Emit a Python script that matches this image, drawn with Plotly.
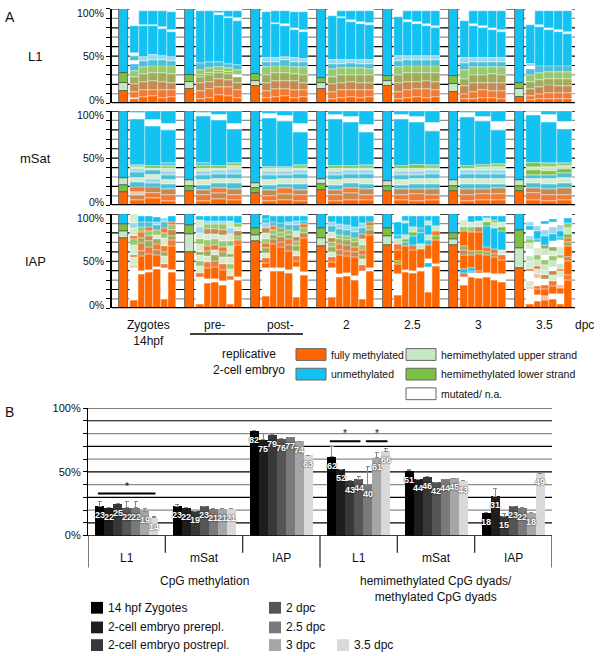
import plotly.graph_objects as go

# ======================= DATA =======================
# ---- Panel A ----
A_ROWS = ["L1", "mSat", "IAP"]
A_GROUP_LABELS = ["Zygotes<br>14hpf", "pre-", "post-", "2", "2.5", "3", "3.5"]
A_TICK_LABELS = {0: "0%", 50: "50%", 100: "100%"}
# stacking order of the summary bar segments per row (rest on top = unmethylated)
A_SUMMARY_CODES = [["O", "L", "G", "B"], ["O", "G", "L", "B"], ["O", "L", "G", "B"]]
# summary bars per group: three lower segments (%), rest = unmethylated
A_SUMMARY_L1 = [[12.5, 8.5, 11], [15, 8, 7], [18.5, 5.5, 7.5], [15.5, 5.5, 5.5],
                [18.5, 5, 5.5], [11.5, 8.5, 9], [7, 8, 6]]
A_SUMMARY_MSAT = [[14.5, 7, 7.5], [15.5, 5, 6.5], [13, 5, 6], [16.5, 6, 5.5],
                  [15.5, 4.5, 6], [15.5, 5, 6.5], [15.5, 5, 6.5]]
A_SUMMARY_IAP = [[75, 7, 7], [60, 18.6, 9.4], [71.7, 6, 7], [66.5, 8.5, 10.5],
                 [67.2, 9.4, 9], [67.2, 6.2, 6], [42.4, 21.4, 19]]

# clone columns: segments bottom->top, code + percent
A_CLONES_L1 = [
    ["O4 p2 o6 a8 m8 g6 t8 W3 t5 W3 B29 W18", "O7 o7 a9 m8 g7 t7 c4 B33 W1 B15 W2",
     "O8 o6 a10 m8 g8 t6 c5 B31 W1 B15 W2", "O6 o8 a9 m9 g7 t7 c4 B29 W2 B17 W2",
     "O7 o7 a8 m9 g8 t6 c4 B27 W2 B19 W3"],
    ["O5 o8 a9 m6 G2 g5 t8 B55 W2", "O6 o9 a8 m7 G2 g5 t7 B54 W2",
     "O9 o8 a9 m6 G2 g4 t6 B50 W2 B2 W2", "O8 o9 a8 m6 G2 g4 t5 B48 W2 B6 W2",
     "O6 o8 a7 m7 W2 g5 t6 B46 W3 B8 W2"],
    ["O6 o7 a8 m9 g8 t6 c4 B49 W3", "O7 o8 a9 m8 g7 t5 c4 B36 W1 B13 W2",
     "O8 o7 a9 m8 g8 t6 c3 B33 W2 B14 W2", "O6 o8 a10 m7 g7 t6 c4 B30 W2 B17 W3",
     "O7 o7 a8 m8 g8 t6 c3 B29 W2 B19 W3"],
    ["O5 o7 a8 m8 g8 t6 c4 B47 W7", "O6 o8 a8 m8 g7 t5 c4 B44 W2 B6 W2",
     "O7 o7 a9 m7 g7 t6 c3 B40 W2 B10 W2", "O6 o8 a8 m8 g7 t5 c4 B38 W2 B12 W2",
     "O7 o7 a8 m8 g6 t6 c4 B37 W2 B13 W2"],
    ["O5 o7 a9 m9 g8 t7 c5 B41 W9", "O6 o8 a9 m9 g8 t6 c4 B36 W2 B10 W2",
     "O7 o8 a8 m9 g8 t6 c4 B34 W2 B12 W2", "O6 o9 a9 m8 g8 t6 c4 B32 W2 B14 W2",
     "O7 o7 a9 m9 g8 t6 c4 B30 W2 B16 W2"],
    ["O4 o6 a8 m8 g9 t8 c5 B39 W13", "O5 o7 a9 m9 g8 t6 c4 B34 W2 B14 W2",
     "O6 o8 a8 m8 g8 t6 c4 B32 W2 B16 W2", "O6 o7 a9 m9 g7 t6 c4 B30 W2 B18 W2",
     "O5 o8 a8 m9 g8 t6 c4 B28 W2 B20 W2"],
    ["O3 o5 a7 m8 g7 t6 W3 c3 B41 W17", "O4 o6 a7 m8 g7 t7 B42 W2 B15 W2",
     "O5 o6 a8 m7 g7 t6 B39 W2 B18 W2", "O4 o7 a7 m8 g7 t6 B37 W2 B20 W2",
     "O5 o6 a7 m8 g7 t6 B35 W2 B22 W2"],
]
A_CLONES_MSAT = [
    ["O6 a5 p3 o5 t6 l4 t6 c3 L3 g2 B48 W7 B2", "O8 o5 a6 t5 c4 l4 t5 L3 G2 B42 W6 B10",
     "O5 o6 a6 t6 l4 t5 c4 L3 g3 t3 B35 W6 B14"],
    ["O5 o6 a5 t6 l5 t5 c4 L4 G2 t3 B50 W3 B2", "O7 a6 o5 t6 l4 t5 c4 L3 G2 B48 W6 B4",
     "O6 o5 a6 t7 l4 t5 c5 L4 g3 B36 W5 B14"],
    ["O5 o5 a6 t6 l5 t5 c4 L3 G2 B52 W4 B3", "O6 a6 o6 t5 l5 t4 c4 L3 g2 B48 W6 B5",
     "O5 o6 a5 t7 l5 t5 c4 L3 g3 B35 W8 B14"],
    ["O5 o6 a5 t6 l5 t5 c4 L4 G2 B50 W4 B4", "O6 a7 o5 t6 l4 t5 c4 L3 G2 B46 W6 B6",
     "O6 o5 a6 t6 l5 t5 c4 L3 g3 B35 W7 B15"],
    ["O6 o5 a6 t5 l5 t5 c4 L4 G2 B50 W4 B4", "O5 o7 a5 t6 l5 t4 c4 L4 G3 B45 W6 B6",
     "O6 o5 a6 t6 l5 t5 c4 L3 g3 B36 W8 B13"],
    ["O5 o6 a6 t6 l5 t5 c4 L3 G2 B52 W4 B2", "O6 o6 a5 t6 l5 t5 c4 L4 G2 B46 W5 B6",
     "O6 o6 a6 t5 l5 t5 c4 L4 g3 B36 W8 B12"],
    ["O6 o7 a5 t6 l4 t4 G5 L4 G4 B51 W3 B1", "O5 o6 a6 t6 l5 t4 G4 L5 g4 B43 W8 B4",
     "O6 o5 a7 t6 l5 t5 G4 L4 g3 B36 W7 B12"],
]
A_CLONES_IAP = [
    ["O9 W34 y3 l8 o3 l10 g6 o4 l8 c5 l10", "O36 W3 O16 a6 o8 m6 o6 g5 t5 B7 W2",
     "O38 W3 O17 o7 m6 a6 g5 o4 t6 B6 W2", "O42 W2 O12 a6 o6 m5 l5 g5 t5 c3 B6 W3",
     "O10 W33 o4 l8 m5 o6 l9 g5 o5 t6 c5 W4", "O38 W3 O25 o6 m5 a6 g5 o4 B6 W2"],
    ["O5 W28 o4 l8 g5 l6 m4 l8 g5 l7 c6 l8 B4 W2", "O27 W4 O12 o6 l6 m6 o5 g6 l7 a5 g5 c4 B5 W2",
     "O28 W3 O13 o6 m6 l6 o5 g6 l6 a5 g5 c4 B5 W2", "O25 W4 O12 o6 l7 m6 o5 g6 l7 a5 g6 c4 B5 W2",
     "O4 W26 o4 l8 g5 l7 m4 l8 g5 l8 c6 l8 B5 W2", "O30 W3 O34 o5 g5 a5 l4 g4 B8 W2"],
    ["O13 W30 O5 o5 l6 m5 o5 g5 l6 a5 c5 t5 B4 W1", "O40 W3 O25 a5 m5 g5 o4 t5 B6 W2",
     "O40 W3 O22 o5 a6 g5 m4 t5 B8 W2", "O37 W4 O20 a6 o6 m5 g5 t5 c4 B6 W2",
     "O12 W32 O6 o5 l6 m5 g5 a5 l6 t6 c5 B5 W2", "O35 W3 O37 a5 g5 o4 t4 B5 W2"],
    ["O12 W31 O6 o5 l6 m5 g5 a5 l6 t6 c5 B6 W2", "O33 W3 O20 a6 o6 m5 g5 t6 c5 B9 W2",
     "O34 W3 O18 o6 a6 m5 g5 t6 c5 B10 W2", "O30 W4 O20 a6 o5 m5 g5 t6 c5 B12 W2",
     "O10 W30 o6 l6 m5 o5 g5 l6 a6 t6 c5 B8 W2", "O40 W3 O35 a5 g4 o4 B7 W2"],
    ["O14 W22 O11 G3 O12 o6 L5 t5 B14 W8", "O38 W3 O25 t4 G4 L4 B12 L3 B5 W2",
     "O37 W3 O22 o5 B10 G4 L5 B12 W2", "O40 W3 O20 L5 B12 t5 B13 W2",
     "O17 W27 B4 W4 O15 t5 L6 B10 L5 B5 W2", "O45 W2 O25 G5 o5 L5 B11 W2"],
    ["O25 W8 o4 B5 O15 a5 m4 O16 g4 l8 W6", "O33 W4 t3 B3 O14 m4 O20 g5 l6 B6 W2",
     "O32 W5 o3 O18 G3 O20 a5 l7 B5 W2", "O33 W4 O20 m3 o5 B22 G4 l5 B2 W2",
     "O30 W6 O18 a4 o5 B22 L5 g4 B4 W2", "O28 W8 O15 o5 l6 B20 G4 l6 B6 W2"],
    ["O5 W15 p3 l6 W10 o3 l8 L5 W8 l6 g4 c4 W6 B4 c5 W8",
     "O8 W6 O6 o4 W8 p4 l6 o3 L6 g5 l8 W6 t4 B8 c5 W13",
     "O9 p4 O7 o5 W6 a4 l6 L5 g5 W6 L6 m4 B10 c6 W6 B4 W7",
     "O10 W5 O9 o5 l6 a4 W5 L6 g5 l6 m4 W6 B8 c7 W6 B3 W5",
     "O5 W10 O6 p4 W8 l6 o3 L5 W6 g4 l8 W7 t4 B6 c6 W12",
     "O30 o5 O15 a4 O12 m4 o5 G4 L6 g5 B6 W4"],
]
A_LEGEND = [("fully methylated", "O"), ("unmethylated", "B"),
            ("hemimethylated upper strand", "L"), ("hemimethylated lower strand", "G"),
            ("mutated/ n.a.", "W")]

# ---- Panel B ----
B_CATEGORIES = ["L1", "mSat", "IAP", "L1", "mSat", "IAP"]
B_SECTIONS = ["CpG methylation", "hemimethylated CpG dyads/<br>methylated CpG dyads"]
B_SERIES = ["14 hpf Zygotes", "2-cell embryo prerepl.", "2-cell embryo postrepl.",
            "2 dpc", "2.5 dpc", "3 dpc", "3.5 dpc"]
B_VALUES = [
    [23, 23, 82, 62, 51, 18],
    [22, 22, 75, 52, 44, 31],
    [25, 19, 79, 43, 46, 15],
    [22, 23, 76, 44, 42, 23],
    [22, 21, 77, 40, 44, 22],
    [19, 21, 74, 61, 45, 18],
    [14, 21, 63, 66, 43, 49],
]
B_ERRORS = [
    [4, 1.5, 0, 8, 1, 0],
    [0, 0, 5, 0, 0, 6],
    [0, 0, 1, 0, 0, 2.5],
    [5, 0, 0, 2, 0, 0],
    [5, 0, 0, 14, 0, 0],
    [2, 0, 0, 4, 0, 0],
    [1, 0, 0, 2, 0, 0],
]
# significance brackets: (category index, first series, last series, level %)
B_SIGNIF = [(0, 0, 6, 33), (3, 0, 3, 74), (3, 4, 6, 74)]

# ======================= STYLE =======================
W, H = 600, 656
FONT = "Liberation Sans, Arial, sans-serif"
COLORS = {"O": "#ff6600", "B": "#14c2f2", "L": "#c7e8c4", "G": "#7cc143", "W": "#ffffff",
          "o": "#f07a36", "a": "#c48a52", "m": "#a0ab5c", "g": "#98c96c", "t": "#4cc0d6",
          "c": "#9ad8ee", "l": "#d6ecd0", "p": "#f8c09a", "y": "#e6d2a0"}
B_COLORS = ["#000000", "#1e1e1e", "#383838", "#555555", "#7a7a7a", "#a6a6a6", "#d9d9d9"]
TXT = dict(color="#111")


def px(x):
    return x / W


def py(y):
    return 1 - y / H


def note(text, x, y, xref="paper", yref="paper", xanchor="center", yanchor="middle", size=12, **kw):
    return dict(text=text, x=x, y=y, xref=xref, yref=yref, xanchor=xanchor, yanchor=yanchor,
                showarrow=False, font=dict(size=size, **TXT), **kw)


fig = go.Figure()

# ---------- Panel A geometry ----------
A_X0, A_X1, A_UNIT = 112, 575, 66.0
A_ROW_PX = [(3, 99), (107, 203), (212, 308)]
S_LEFT, S_W = 7 / A_UNIT, 9 / A_UNIT
C_L, C_R = 18 / A_UNIT, 64 / A_UNIT
TICK_SHIFT = {0: 3, 50: 0, 100: -4}

summaries = [A_SUMMARY_L1, A_SUMMARY_MSAT, A_SUMMARY_IAP]
clones = [A_CLONES_L1, A_CLONES_MSAT, A_CLONES_IAP]
shapes, annotations = [], []


def add(store, code, x, base, h, w):
    d = store.setdefault(code, {"x": [], "base": [], "y": [], "w": []})
    d["x"].append(x); d["base"].append(base); d["y"].append(h); d["w"].append(w)


for r in range(3):
    xa = "x" if r == 0 else f"x{r + 1}"
    ya = "y" if r == 0 else f"y{r + 1}"
    buckets, sbuckets = {}, {}
    for g in range(7):
        vals = list(summaries[r][g]) + [100 - sum(summaries[r][g])]
        base = 0
        for code, v in zip(A_SUMMARY_CODES[r], vals):
            add(sbuckets, code, g + S_LEFT + S_W / 2, base, v, S_W)
            base += v
        cols = clones[r][g]
        cw = (C_R - C_L) / len(cols)
        for j, s in enumerate(cols):
            xc = g + C_L + (j + 0.5) * cw
            base = 0
            for tok in s.split():
                v = float(tok[1:])
                add(buckets, tok[0], xc, base, v, cw)
                base += v
    for code, d in buckets.items():
        fig.add_trace(go.Bar(x=d["x"], y=d["y"], base=d["base"], width=d["w"],
                             marker=dict(color=COLORS[code], line=dict(color="white", width=0.4)),
                             xaxis=xa, yaxis=ya, showlegend=False, hoverinfo="skip"))
    for code, d in sbuckets.items():
        fig.add_trace(go.Bar(x=d["x"], y=d["y"], base=d["base"], width=d["w"],
                             marker=dict(color=COLORS[code], line=dict(color="#555555", width=0.8)),
                             xaxis=xa, yaxis=ya, showlegend=False, hoverinfo="skip"))
    for v in range(10, 101, 10):
        col = "#000000" if v in (50, 100) or v % 20 == 0 else "#8a8a8a"
        shapes.append(dict(type="line", xref=f"{xa} domain", yref=ya, x0=0, x1=1, y0=v, y1=v,
                           line=dict(color=col, width=1.2), layer="below"))
    shapes.append(dict(type="line", xref=f"{xa} domain", yref=ya, x0=0, x1=1, y0=0, y1=0,
                       line=dict(color="black", width=2.5), layer="above"))
    annotations.append(note(A_ROWS[r], px(35), py((A_ROW_PX[r][0] + A_ROW_PX[r][1]) / 2), size=13))
    for v, lab in A_TICK_LABELS.items():
        annotations.append(note(lab, px(A_X0 - 6), v, yref=ya, xanchor="right", size=10.5,
                                yshift=TICK_SHIFT[v]))

axis_common = dict(showgrid=False, zeroline=False)
for r in range(3):
    sfx = "" if r == 0 else str(r + 1)
    fig.update_layout(**{
        f"xaxis{sfx}": dict(domain=[px(A_X0), px(A_X1)], range=[0, (A_X1 - A_X0) / A_UNIT],
                            showticklabels=False, ticks="", showline=False, anchor=f"y{sfx}",
                            **axis_common),
        f"yaxis{sfx}": dict(domain=[py(A_ROW_PX[r][1]), py(A_ROW_PX[r][0])], range=[0, 100],
                            tickvals=list(range(0, 101, 10)), showticklabels=False,
                            ticks="outside", ticklen=4, tickcolor="black", showline=True,
                            linecolor="black", linewidth=1.5, anchor=f"x{sfx}", **axis_common),
    })

for g, lab in enumerate(A_GROUP_LABELS):
    annotations.append(note(lab, g + 0.56, py(316), xref="x3", yanchor="top"))
annotations.append(note("dpc", px(584), py(316), yanchor="top"))
shapes.append(dict(type="line", xref="paper", yref="paper", x0=px(190), x1=px(303),
                   y0=py(334), y1=py(334), line=dict(color="black", width=1.5)))
annotations.append(note("replicative<br>2-cell embryo", px(249), py(345), yanchor="top"))
annotations.append(note("A", px(3), py(1), xanchor="left", yanchor="top", size=14))

leg_pos = [(296, 349), (296, 369), (406, 349), (406, 369), (406, 389)]
for (lab, code), (lx, ly) in zip(A_LEGEND, leg_pos):
    shapes.append(dict(type="rect", xref="paper", yref="paper", x0=px(lx), x1=px(lx + 30),
                       y0=py(ly + 12), y1=py(ly), fillcolor=COLORS[code],
                       line=dict(color="#666", width=1)))
    annotations.append(note(lab, px(lx + 33), py(ly + 6), xanchor="left", size=10.5))

# ---------- Panel B ----------
B_X0, B_X1 = 88, 552
B_Y0, B_Y100 = 539.5, 409.5
GW = 63 / 77.33
BW = GW / 7
for i, name in enumerate(B_SERIES):
    fig.add_trace(go.Bar(
        x=list(range(6)), y=B_VALUES[i], width=BW, offset=-GW / 2 + i * BW,
        marker=dict(color=B_COLORS[i], line=dict(width=0)),
        error_y=dict(type="data", array=B_ERRORS[i], arrayminus=[0] * 6, symmetric=False,
                     color="#888888", thickness=1, width=2),
        xaxis="x4", yaxis="y4", showlegend=False, hoverinfo="skip"))
    for g in range(6):
        annotations.append(dict(text=f"<b>{B_VALUES[i][g]}</b>", x=g - GW / 2 + (i + 0.5) * BW,
                                y=B_VALUES[i][g], xref="x4", yref="y4", xanchor="center",
                                yanchor="top", yshift=-2, showarrow=False,
                                font=dict(size=9, color="white", shadow="0px 0px 2px #000")))

fig.update_layout(
    xaxis4=dict(domain=[px(B_X0), px(B_X1)], range=[-0.5, 5.5], showticklabels=False,
                ticks="", showline=False, anchor="y4", **axis_common),
    yaxis4=dict(domain=[py(B_Y0), py(B_Y100)], range=[0, 100], tickvals=list(range(0, 101, 10)),
                ticktext=[A_TICK_LABELS.get(v, "") for v in range(0, 101, 10)],
                ticks="outside", ticklen=4, tickcolor="black", showline=True, linecolor="black",
                linewidth=1.2, anchor="x4", tickfont=dict(size=11, color="#111"), **axis_common),
)
for v in range(10, 101, 10):
    col = "#000000" if v % 20 == 10 or v == 100 else "#8a8a8a"
    shapes.append(dict(type="line", xref="x4 domain", yref="y4", x0=0, x1=1, y0=v, y1=v,
                       line=dict(color=col, width=1.2), layer="below"))
shapes.append(dict(type="line", xref="x4", yref="y4", x0=-0.5, x1=5.5, y0=0, y1=0,
                   line=dict(color="black", width=1.5)))
for k in range(7):
    long_ = k in (0, 3, 6)
    shapes.append(dict(type="line", xref="x4", yref="paper", x0=k - 0.5, x1=k - 0.5,
                       y0=py(B_Y0), y1=py(572 if long_ else 557), line=dict(color="#222", width=1.2)))
for g, lab in enumerate(B_CATEGORIES):
    annotations.append(note(lab, g, py(562), xref="x4"))
for s, lab in enumerate(B_SECTIONS):
    annotations.append(note(lab, 1 + 3 * s, py(577), xref="x4", yanchor="top"))
for (g, i0, i1, lvl) in B_SIGNIF:
    xa0 = g - GW / 2 + i0 * BW + BW * 0.3
    xa1 = g - GW / 2 + (i1 + 1) * BW - BW * 0.3
    shapes.append(dict(type="line", xref="x4", yref="y4", x0=xa0, x1=xa1, y0=lvl, y1=lvl,
                       line=dict(color="black", width=2)))
    annotations.append(note("*", (xa0 + xa1) / 2, lvl, xref="x4", yref="y4", yanchor="bottom",
                            size=10))
annotations.append(note("B", px(3), py(403), xanchor="left", yanchor="top", size=14))

legB_pos = [(91, 613), (91, 633), (91, 651), (269, 613), (269, 633), (269, 651), (337, 651)]
for i, (name, (lx, ly)) in enumerate(zip(B_SERIES, legB_pos)):
    shapes.append(dict(type="rect", xref="paper", yref="paper", x0=px(lx), x1=px(lx + 12),
                       y0=py(ly + 6), y1=py(ly - 6), fillcolor=B_COLORS[i], line=dict(width=0)))
    annotations.append(note(name, px(lx + 15), py(ly), xanchor="left"))

fig.update_layout(
    width=W, height=H, margin=dict(l=0, r=0, t=0, b=0), barmode="overlay", bargap=0,
    paper_bgcolor="white", plot_bgcolor="white", font=dict(family=FONT, color="#111"),
    shapes=shapes, annotations=annotations, showlegend=False,
)
fig.write_html("out.html", config={"displayModeBar": False},
               post_script="document.body.style.margin='0px';")
